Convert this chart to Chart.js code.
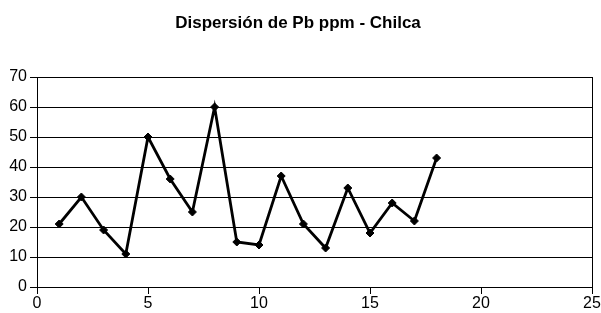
<!DOCTYPE html>
<html>
<head>
<meta charset="utf-8">
<script src="https://cdn.jsdelivr.net/npm/chart.js@4/dist/chart.umd.min.js"></script>
<style>
  html, body { margin: 0; padding: 0; background: #ffffff; }
  #wrap { width: 601px; height: 313px; }
</style>
</head>
<body>
<div id="wrap"><canvas id="chart" width="601" height="313"></canvas></div>
<script>
// Data
const titleText = 'Dispersión de Pb ppm - Chilca';
const sampleIds = [1, 2, 3, 4, 5, 6, 7, 8, 9, 10, 11, 12, 13, 14, 15, 16, 17, 18];
const pbValues = [21, 30, 19, 11, 50, 36, 25, 60, 15, 14, 37, 21, 13, 33, 18, 28, 22, 43];
const xTicks = [0, 5, 10, 15, 20, 25];
const yTicks = [0, 10, 20, 30, 40, 50, 60, 70];

const fontFamily = '"Liberation Sans", Arial, sans-serif';

// draws the right edge of the plot frame
const frameRight = {
    id: 'frameRight',
    afterDraw(chart) {
        const { ctx, chartArea } = chart;
        ctx.save();
        ctx.strokeStyle = '#000000';
        ctx.lineWidth = 1;
        ctx.beginPath();
        ctx.moveTo(Math.round(chartArea.right) + 0.5, chartArea.top);
        ctx.lineTo(Math.round(chartArea.right) + 0.5, chartArea.bottom);
        ctx.stroke();
        ctx.restore();
    }
};

new Chart(document.getElementById('chart').getContext('2d'), {
    type: 'scatter',
    data: {
        datasets: [{
            label: 'Pb ppm',
            data: sampleIds.map((x, i) => ({ x: x, y: pbValues[i] })),
            showLine: true,
            borderColor: '#000000',
            backgroundColor: '#000000',
            borderWidth: 2.8,
            pointStyle: 'rectRot',
            pointRadius: 4,
            pointBorderWidth: 1,
            tension: 0
        }]
    },
    options: {
        responsive: false,
        animation: false,
        layout: { padding: { left: 4, right: 9, top: 0, bottom: 0 } },
        plugins: {
            legend: { display: false },
            tooltip: { enabled: false },
            title: {
                display: true,
                text: titleText,
                color: '#000000',
                font: { family: fontFamily, size: 17, weight: 'bold' },
                padding: { top: 13, bottom: 43.6 }
            }
        },
        scales: {
            x: {
                type: 'linear',
                min: 0,
                max: 25,
                afterBuildTicks: (scale) => { scale.ticks = xTicks.map(v => ({ value: v })); },
                afterFit: (scale) => { scale.height = 26; },
                border: { display: true, color: '#000000', width: 1 },
                grid: { drawOnChartArea: false, drawTicks: true, tickLength: 7, color: '#000000' },
                ticks: { color: '#000000', padding: 0, maxRotation: 0, font: { family: fontFamily, size: 16 } }
            },
            y: {
                min: 0,
                max: 70,
                afterBuildTicks: (scale) => { scale.ticks = yTicks.map(v => ({ value: v })); },
                afterFit: (scale) => { scale.width = 33; },
                border: { display: true, color: '#000000', width: 1 },
                grid: { color: '#000000', lineWidth: 1, tickLength: 7 },
                ticks: { color: '#000000', padding: 3, font: { family: fontFamily, size: 16 } }
            }
        }
    },
    plugins: [frameRight]
});
</script>
</body>
</html>
